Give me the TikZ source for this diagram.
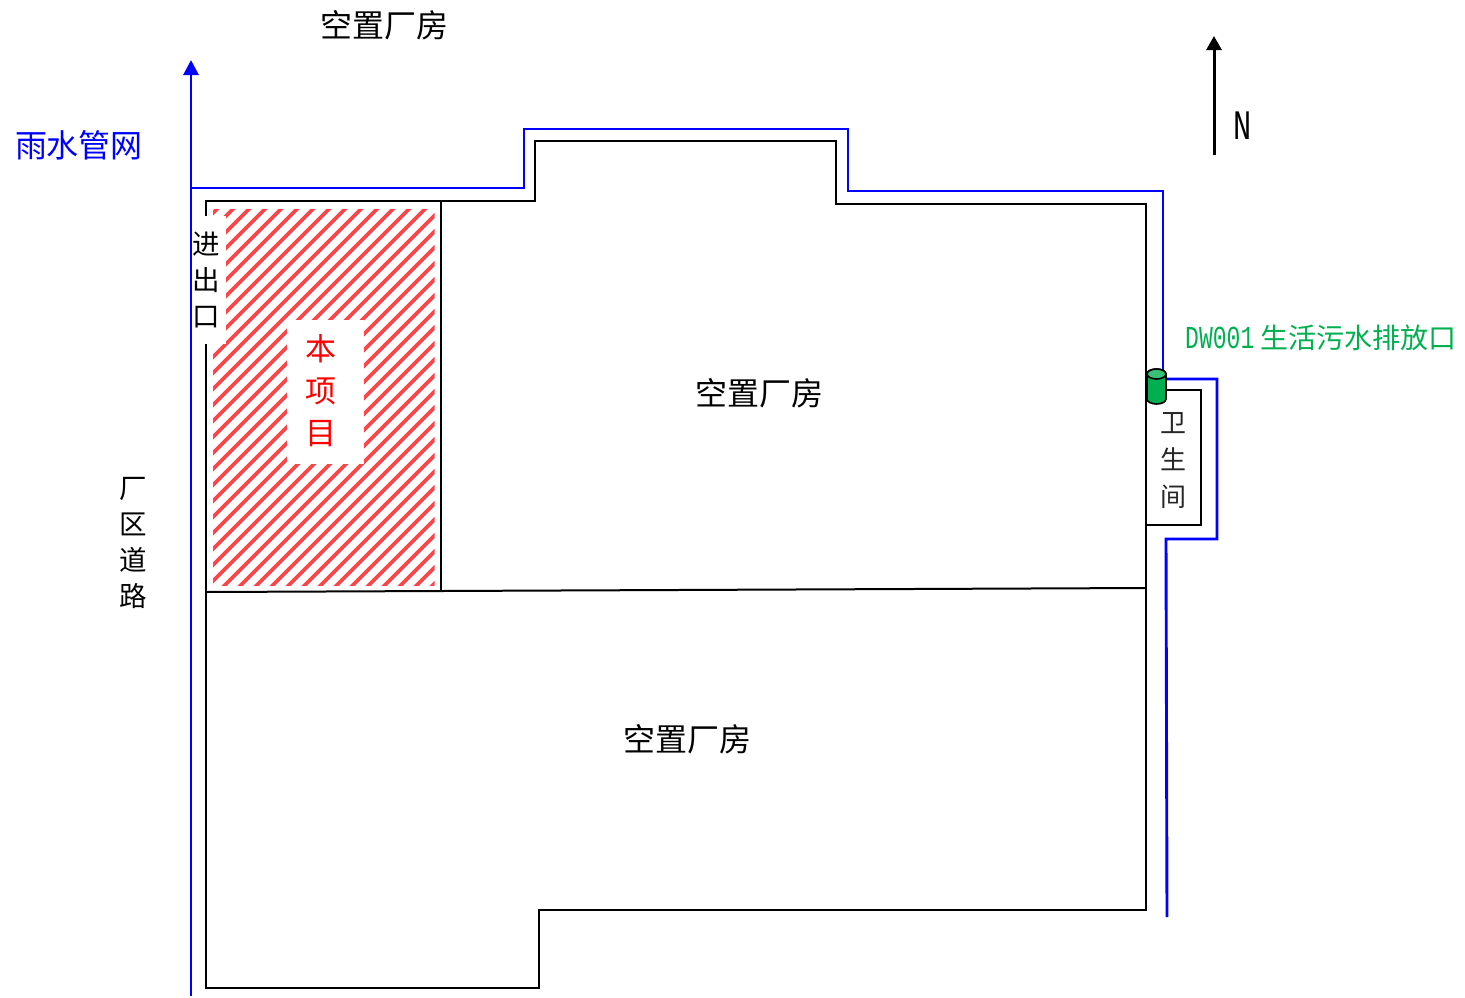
\documentclass[tikz,border=0pt]{standalone}
\usepackage{fontspec}
\setmainfont{Noto Sans CJK SC}
\newfontfamily\latinfont[FakeStretch=0.72]{Liberation Mono}
\usetikzlibrary{arrows.meta}

\tikzset{
    wall/.style={black,line width=2pt},
    pipe/.style={color=pipeblue,line width=2.9pt},
    mask/.style={fill=white,draw=none},
    label/.style={black,font=\fontsize{32}{36}\selectfont},
    column/.style={black,align=center,inner sep=0pt,font=\fontsize{27.5}{36.3}\selectfont},
}

\begin{document}
\begin{tikzpicture}[x=1pt,y=-1pt]
    \colorlet{pipeblue}{blue}
    \definecolor{hatch}{RGB}{250,70,75}
    \definecolor{outgreen}{RGB}{0,176,80}

    \useasboundingbox (0,0) rectangle (1465,997);

    % project area
    \begin{scope}
        \clip (213,209) rectangle (434.5,585);
        \foreach \d in {426,442,...,1034} \draw[hatch,line width=3.6pt] (\d,0) -- (0,\d);
    \end{scope}

    % workshop outline
    \draw[wall] (206,216) -- (206,201) -- (535,201) -- (535,141) -- (836,141) -- (836,204)
        -- (1146,204) -- (1146,910) -- (539,910) -- (539,988) -- (206,988) -- (206,344);
    \draw[wall] (206,592) -- (1146,588);
    \draw[wall] (441,201) -- (441,592);
    \draw[wall,line width=1.6pt] (1146,390) -- (1201,390) -- (1201,525) -- (1146,525);

    \fill[mask] (193,216) rectangle (226,344);
    \fill[mask] (287,320) rectangle (364,464);

    % pipes
    \draw[pipe,-{Triangle[length=15pt,width=15pt]}] (191,996) -- (191,60);
    \draw[pipe] (191,188) -- (524,188) -- (524,129) -- (848,129) -- (848,191) -- (1163,191) -- (1163,372);
    \draw[pipe] (1165,379) -- (1217,379) -- (1217,539) -- (1166,539) -- (1167,917);

    % outlet
    \filldraw[draw=black,line width=1.6pt,fill=outgreen] (1147,374) -- (1147,399)
        arc[start angle=180,end angle=360,x radius=9.5,y radius=-5] -- (1166,374)
        arc[start angle=0,end angle=180,x radius=9.5,y radius=-5] -- cycle;
    \filldraw[draw=black,line width=1.6pt,fill=outgreen!78!white] (1156.5,374)
        ellipse[x radius=9.5,y radius=5];

    % north arrow
    \coordinate (northend) at (1214,155);
    \coordinate (northtip) at (1214,36);
    \draw[black,line width=3pt,-{Triangle[length=14pt,width=15pt]}] (northend) -- (northtip);
    \node[black,font=\latinfont\fontsize{42}{42}\selectfont] (north) at (1243,126) {N};

    % labels
    \node[label] (topshop) at (384,25) {空置厂房};
    \node[label] (midshop) at (759,393) {空置厂房};
    \node[label] (lowshop) at (687,739) {空置厂房};
    \node[label,pipeblue] (rainnet) at (79,145) {雨水管网};
    \node[column] (gate) at (206,280) {进\\出\\口};
    \node[column] (road) at (133,543) {厂\\区\\道\\路};
    \node[column,red,font=\fontsize{31}{42}\selectfont] (project) at (321,391) {本\\项\\目};
    \node[column,black!85,font=\fontsize{26}{37}\selectfont] (toilet) at (1173,461) {卫\\生\\间};
    \node[outgreen,inner sep=0pt,anchor=west,font=\fontsize{28}{30}\selectfont] (outname) at (1185,338)
        {{\latinfont\fontsize{32}{30}\selectfont DW001} 生活污水排放口};
\end{tikzpicture}
\end{document}
